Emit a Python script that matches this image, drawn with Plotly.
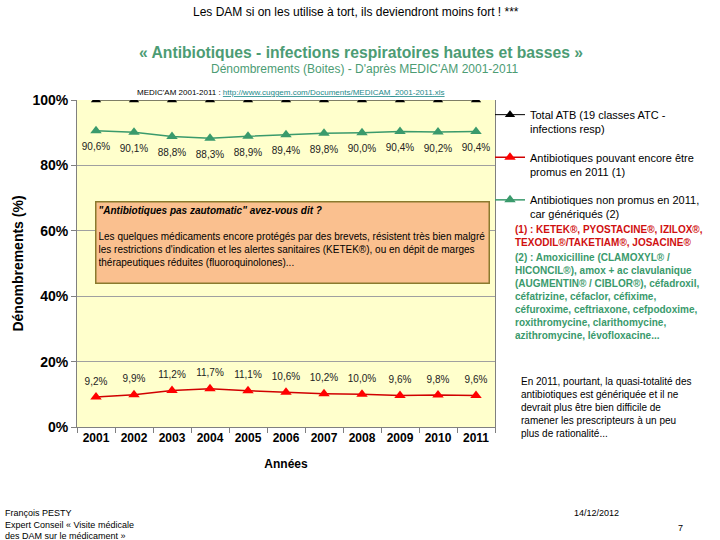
import plotly.graph_objects as go

# ---- data ----
years = [2001, 2002, 2003, 2004, 2005, 2006, 2007, 2008, 2009, 2010, 2011]
total_atb = [100, 100, 100, 100, 100, 100, 100, 100, 100, 100, 100]
promus = [9.2, 9.9, 11.2, 11.7, 11.1, 10.6, 10.2, 10.0, 9.6, 9.8, 9.6]
generiques = [90.6, 90.1, 88.8, 88.3, 88.9, 89.4, 89.8, 90.0, 90.4, 90.2, 90.4]
y_ticks = [0, 20, 40, 60, 80, 100]
y_ticklabels = ["0%", "20%", "40%", "60%", "80%", "100%"]

series_names = [
    "Total ATB (19 classes ATC -<br>infections resp)",
    "Antibiotiques pouvant encore être<br>promus en 2011 (1)",
    "Antibiotiques non promus en 2011,<br>car génériqués (2)",
]

BLACK = "#000000"
RED = "#FF0000"
GREEN = "#3A9A6C"
TITLE_GREEN = "#4C9C74"
FONT = "Liberation Sans"
NARROW = "Liberation Sans Narrow, Liberation Sans"

W, H = 720, 540
L, R, T, B = 77, 495, 100, 427


def px(x):
    return (x - L) / (R - L)


def py(y):
    return (B - y) / (B - T)


fig = go.Figure()

fig.add_trace(go.Scatter(
    x=years, y=total_atb, mode="lines+markers", name=series_names[0],
    line=dict(color=BLACK, width=1), marker=dict(symbol="triangle-up", size=9, color=BLACK),
    legendgroup="a",
))
fig.add_trace(go.Scatter(
    x=years, y=promus, mode="lines+markers", name=series_names[1],
    line=dict(color="#D00000", width=1.5), marker=dict(symbol="triangle-up", size=10, color=RED),
    legendgroup="b",
))
fig.add_trace(go.Scatter(
    x=years, y=generiques, mode="lines+markers", name=series_names[2],
    line=dict(color=GREEN, width=1.5), marker=dict(symbol="triangle-up", size=10, color=GREEN),
    legendgroup="c",
))
# data labels (invisible markers push the labels away from the points)
fig.add_trace(go.Scatter(
    x=years, y=promus, mode="markers+text", texttemplate="%{y:.1f}%", textposition="top center",
    marker=dict(size=14, opacity=0), textfont=dict(family=FONT, size=10, color="#222222"),
    showlegend=False, hoverinfo="skip",
))
fig.add_trace(go.Scatter(
    x=years, y=generiques, mode="markers+text", texttemplate="%{y:.1f}%", textposition="bottom center",
    marker=dict(size=18, opacity=0), textfont=dict(family=FONT, size=10, color="#222222"),
    showlegend=False, hoverinfo="skip",
))

annotations = []


def ann(text, x, y, size=10, color="black", xanchor="left", yanchor="middle", family=FONT, **kw):
    annotations.append(dict(
        text=text, x=px(x), y=py(y), xref="paper", yref="paper", showarrow=False,
        xanchor=xanchor, yanchor=yanchor, font=dict(family=family, size=size, color=color),
        align=kw.pop("align", "left"), **kw))


ann("Les DAM si on les utilise à tort, ils deviendront moins fort ! ***", 356, 12, size=12,
    xanchor="center", family=NARROW)
ann("<b>« Antibiotiques - infections respiratoires hautes et basses »</b>", 361, 52, size=15.7,
    color=TITLE_GREEN, xanchor="center")
ann("Dénombrements (Boites) - D'après MEDIC'AM 2001-2011", 364, 69, size=12,
    color=TITLE_GREEN, xanchor="center")
ann("MEDIC'AM 2001-2011 : <span style='color:#1B8A8A'><u>http://www.cuggem.com/Documents/MEDICAM_2001-2011.xls</u></span>",
    135, 92, size=8)

# annotation box in the chart
box_text = ("<b><i>\"Antibiotiques pas zautomatic\" avez-vous dit ?</i></b><br><br>"
            "Les quelques médicaments encore protégés par des brevets, résistent très bien malgré<br>"
            "les restrictions d'indication et les alertes sanitaires (KETEK®), ou en dépit de marges<br>"
            "thérapeutiques réduites (fluoroquinolones)...")
annotations.append(dict(
    text=box_text, x=px(95), y=py(201), xref="paper", yref="paper", showarrow=False,
    xanchor="left", yanchor="top", align="left", valign="top", width=388, height=76,
    bgcolor="#FAC08F", bordercolor="#8A7A2E", borderwidth=1.5, borderpad=2,
    font=dict(family=FONT, size=10, color="black"),
))

# footnotes
ann("<b>(1) : KETEK®, PYOSTACINE®, IZILOX®,<br>TEXODIL®/TAKETIAM®, JOSACINE®</b>",
    513, 222, size=10, color="#D01010", yanchor="top")
ann("<b>(2) : Amoxicilline (CLAMOXYL® /<br>HICONCIL®), amox + ac clavulanique<br>"
    "(AUGMENTIN® / CIBLOR®), céfadroxil,<br>céfatrizine, céfaclor, céfixime,<br>"
    "céfuroxime, ceftriaxone, cefpodoxime,<br>roxithromycine, clarithomycine,<br>"
    "azithromycine, lévofloxacine...</b>",
    513, 250, size=10, color=GREEN, yanchor="top")
ann("En 2011, pourtant, la quasi-totalité des<br>antibiotiques est génériquée et il ne<br>"
    "devrait plus être bien difficile de<br>ramener les prescripteurs à un peu<br>plus de rationalité...",
    519, 374, size=10, yanchor="top")

# footer
ann("François PESTY<br>Expert Conseil « Visite médicale<br>des DAM sur le médicament »",
    3, 506, size=9, yanchor="top", family=NARROW)
ann("14/12/2012", 572, 513, size=9, family=NARROW)
ann("7", 676, 528, size=9, family=NARROW)

fig.update_layout(
    width=W, height=H,
    margin=dict(l=L, r=W - R, t=T, b=H - B, pad=0),
    paper_bgcolor="white", plot_bgcolor="#FFFFCC",
    separators=", ",
    font=dict(family=FONT, size=11, color="black"),
    showlegend=True,
    legend=dict(
        x=px(490), y=py(101), xanchor="left", yanchor="top",
        font=dict(family=FONT, size=11, color="black"),
        valign="top", tracegroupgap=11, itemwidth=30,
        bgcolor="rgba(0,0,0,0)", borderwidth=0,
    ),
    annotations=annotations,
    xaxis=dict(
        range=[2000.5, 2011.5], tickmode="array", tickvals=years,
        ticktext=[str(y) for y in years], ticks="", showgrid=False,
        tickfont=dict(family=FONT, size=12, color="black", weight="bold"),
        showline=True, linecolor="#808080", linewidth=1, zeroline=False,
        minor=dict(tick0=2000.5, dtick=1, ticks="outside", ticklen=5, tickcolor="#808080", showgrid=False),
        title=dict(text="<b>Années</b>", font=dict(family=FONT, size=12, color="black"), standoff=15),
        fixedrange=True,
    ),
    yaxis=dict(
        range=[0, 100], tickmode="array", tickvals=y_ticks, ticktext=y_ticklabels,
        ticks="outside", ticklen=5, tickcolor="#808080",
        tickfont=dict(family=FONT, size=14, color="black", weight="bold"),
        showgrid=True, gridcolor="#A0A0A0", gridwidth=1,
        showline=True, linecolor="#808080", linewidth=1, mirror=True, zeroline=False,
        title=dict(text="<b>Dénombrements (%)</b>", font=dict(family=FONT, size=14, color="black"), standoff=5),
        fixedrange=True,
    ),
)

fig.write_html("out.html", config={"displayModeBar": False},
               post_script="document.body.style.margin='0';")
